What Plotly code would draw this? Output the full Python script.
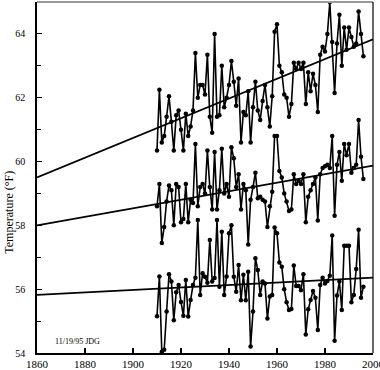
import plotly.graph_objects as go

years = list(range(1910, 1997))

top_series = [
    60.35, 62.25, 60.6, 60.8, 61.4, 62.05, 61.25, 60.35, 61.45, 61.6,
    61.0, 60.35, 61.5, 60.8, 61.1, 61.6, 63.4, 62.0, 62.4, 62.4,
    62.1, 63.35, 61.4, 60.9, 64.0, 61.4, 61.45, 63.0, 61.7, 62.0,
    62.4, 63.15, 62.5, 61.75, 62.6, 60.6, 61.55, 61.45, 62.2, 60.6,
    61.7, 62.5, 61.6, 61.3, 61.9, 62.4, 61.7, 61.1, 62.05, 64.07,
    64.3, 63.0, 62.8, 62.1, 62.0, 61.4, 61.8, 63.1, 62.9, 63.1,
    62.9, 63.1, 61.8, 62.8, 62.2, 62.75, 62.4, 61.55, 63.35, 63.6,
    63.45, 64.0, 65.0, 63.75, 62.15, 63.7, 64.6, 63.0, 64.2, 63.5,
    64.2, 63.9, 63.6, 63.7, 64.7, 64.0, 63.3,
]

middle_series = [
    58.6, 59.3, 57.45, 57.95, 58.75, 59.25, 59.1, 58.0, 59.3, 59.2,
    58.1, 58.2, 59.3, 58.1, 58.8, 58.7, 60.55, 58.6, 59.2, 59.3,
    59.0, 60.35, 59.2, 58.5, 60.3, 58.5, 59.1, 60.4, 59.0, 59.3,
    58.9, 60.45, 60.1, 59.2, 59.6, 58.5, 59.3, 59.1, 57.4, 58.8,
    59.2, 59.65, 58.85, 58.9, 58.8, 58.75, 57.95, 58.6, 59.05, 60.8,
    60.8, 59.7, 59.5, 59.0, 58.75, 58.45, 58.5, 59.6, 59.3, 59.4,
    59.3, 59.6, 58.1, 58.9, 59.1, 59.3, 59.5, 58.15, 59.6, 59.8,
    59.85, 59.9, 59.8, 60.8, 58.3, 59.9, 60.3, 59.4, 60.55, 60.2,
    60.55, 59.65, 59.8, 59.9, 61.3, 60.15, 59.45,
]

bottom_series = [
    55.15, 56.4, 54.04, 54.1, 55.3, 56.47, 56.24, 55.03, 55.9, 56.13,
    55.6, 55.17, 56.29, 55.14, 55.66, 56.13, 56.36, 58.17, 55.82, 56.5,
    56.39, 56.2, 57.54, 56.24, 56.35, 58.17, 56.08, 57.8, 55.82, 56.4,
    57.75, 58.0, 56.39, 55.92, 56.76, 55.65, 56.45, 55.65, 56.55, 54.2,
    55.3, 56.97, 56.6, 55.82, 56.24, 56.18, 55.08, 55.77, 55.82, 57.93,
    57.75, 56.84, 56.7, 56.0, 55.59, 55.35, 55.38, 56.74, 56.1, 56.1,
    55.97, 56.47, 54.58, 55.37, 55.66, 55.94, 55.73, 54.72, 56.13, 56.36,
    56.18, 56.26, 56.42, 57.68, 54.38, 55.8, 56.24, 55.35, 57.36, 57.36,
    57.36, 55.59, 55.82, 56.63, 57.86, 55.73, 56.08,
]

trend_years = [1860, 2000]
trend_top = [59.5, 63.83]
trend_middle = [58.0, 59.87]
trend_bottom = [55.82, 56.36]

x_ticks = [1860, 1880, 1900, 1920, 1940, 1960, 1980, 2000]
y_ticks = [54, 56, 58, 60, 62, 64]

fig = go.Figure()
for tr in (trend_top, trend_middle, trend_bottom):
    fig.add_trace(go.Scatter(x=trend_years, y=tr, mode="lines",
                             line=dict(color="black", width=1.8),
                             hoverinfo="skip", showlegend=False))
for s in (top_series, middle_series, bottom_series):
    fig.add_trace(go.Scatter(x=years, y=s, mode="lines+markers",
                             line=dict(color="black", width=1.6),
                             marker=dict(color="black", size=4.5),
                             showlegend=False))

serif = "Liberation Serif, Times New Roman, serif"
fig.update_layout(
    width=380, height=370,
    margin=dict(l=37, r=7, t=2, b=17),
    paper_bgcolor="white", plot_bgcolor="white",
    font=dict(family=serif, color="black"),
    xaxis=dict(range=[1860, 2000], tickvals=x_ticks,
               ticktext=[str(v) for v in x_ticks], automargin=False,
               ticks="inside", ticklen=5, tickwidth=1.5, tickcolor="black",
               showline=True, linecolor="black", linewidth=1.6,
               showgrid=False, zeroline=False, ticklabelstandoff=0,
               ticklabeloverflow="allow",
               tickfont=dict(size=11, family=serif)),
    yaxis=dict(range=[54, 65], tickvals=y_ticks,
               ticktext=[str(v) for v in y_ticks], automargin=False,
               ticks="inside", ticklen=5, tickwidth=1.3, tickcolor="black",
               minor=dict(dtick=1, ticks="inside", ticklen=4,
                          tickwidth=1.3, tickcolor="black"),
               showline=True, linecolor="black", linewidth=1.6,
               showgrid=False, zeroline=False, ticklabelstandoff=8,
               tickfont=dict(size=10, family=serif)),
    shapes=[
        dict(type="line", xref="paper", yref="paper", x0=0, x1=1, y0=1, y1=1,
             line=dict(color="#9a9a9a", width=2)),
        dict(type="line", xref="paper", yref="paper", x0=1, x1=1, y0=0, y1=1,
             line=dict(color="black", width=1.2)),
    ],
    annotations=[
        dict(text="Temperature (°F)", xref="paper", yref="paper",
             x=-0.086, y=0.40, textangle=-90, showarrow=False,
             xanchor="center", yanchor="middle",
             font=dict(size=12, family=serif)),
        dict(text="11/19/95 JDG", xref="x", yref="y", x=1866.5, y=54.37,
             showarrow=False, xanchor="left", yanchor="middle",
             font=dict(size=8, family=serif)),
    ],
)

fig.write_html(
    "out.html",
    config={"displayModeBar": False},
    post_script="document.body.style.margin='0';document.body.style.padding='0';",
)
